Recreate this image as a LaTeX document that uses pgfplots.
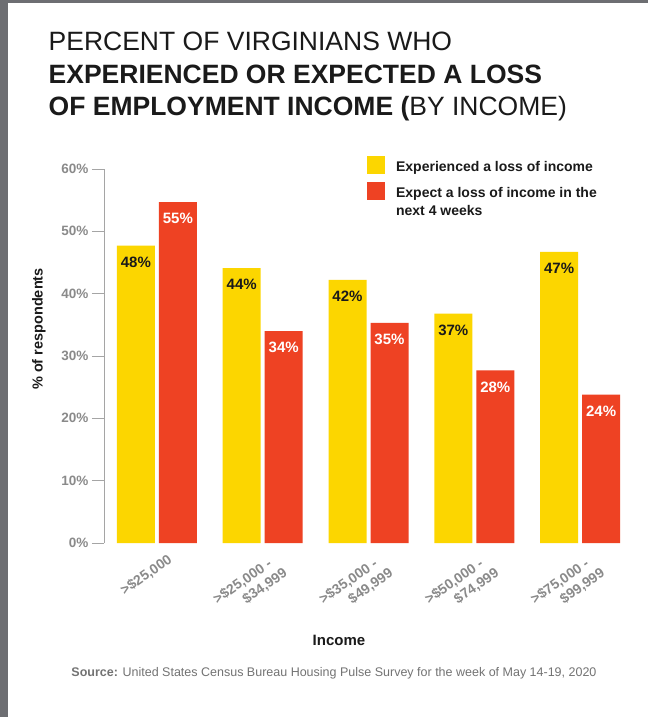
\documentclass[border=0pt]{standalone}
\usepackage{pgfplots}
\pgfplotsset{compat=1.18}
\usepackage{fontspec}
\setmainfont{Liberation Sans}
\definecolor{ylw}{RGB}{252,214,0}
\definecolor{rd}{RGB}{238,66,35}
\definecolor{framegray}{RGB}{109,110,114}
\definecolor{tickgray}{RGB}{138,138,138}
\definecolor{axgray}{RGB}{165,165,165}
\definecolor{srcgray}{RGB}{115,115,115}
\definecolor{ink}{RGB}{26,26,26}

\pgfplotstableread{
x exp expect
0 47.7 54.7
1 44.1 34.0
2 42.2 35.3
3 36.8 27.7
4 46.7 23.8
}\datatable

\begin{document}
\begin{tikzpicture}
\useasboundingbox (0,0) rectangle (648pt,-717pt);
\fill[framegray] (0,0) rectangle (648pt,-717pt);
\fill[white] (8pt,-3pt) rectangle (648pt,-717pt);

\node[anchor=base west, inner sep=0pt, text=ink, font=\fontsize{26.5}{30}\selectfont] at (48.5pt,-51pt) {PERCENT OF VIRGINIANS WHO};
\node[anchor=base west, inner sep=0pt, text=ink, font=\fontsize{26.5}{30}\selectfont\bfseries] at (48.5pt,-83pt) {EXPERIENCED OR EXPECTED A LOSS};
\node[anchor=base west, inner sep=0pt, text=ink, font=\fontsize{26.5}{30}\selectfont] at (48.5pt,-115pt) {\textbf{OF EMPLOYMENT INCOME (}BY INCOME)};

\begin{axis}[
  at={(104pt,-543pt)}, anchor=south west,
  scale only axis, width=529pt, height=374pt,
  xmin=-0.5, xmax=4.5, ymin=0, ymax=60,
  ybar=4pt, bar width=38pt,
  axis x line*=bottom, axis y line*=left,
  x axis line style={draw=none},
  y axis line style={axgray, line width=0.9pt},
  xtick={0,1,2,3,4}, xtick style={draw=none}, xtick align=inside,
  xticklabels={{>\$25,000},{>\$25,000 -\\\hspace*{24pt}\$34,999},{>\$35,000 -\\\hspace*{24pt}\$49,999},{>\$50,000 -\\\hspace*{24pt}\$74,999},{>\$75,000 -\\\hspace*{24pt}\$99,999}},
  xticklabel style={font=\fontsize{14}{16.5}\selectfont\bfseries, text=tickgray, align=left, inner sep=0pt, xshift=10pt, yshift=-10pt, rotate=35, anchor=north east},
  ytick={0,10,...,60}, ytick align=outside, major tick length=12pt,
  ytick style={axgray, line width=0.9pt},
  yticklabel={\pgfmathprintnumber{\tick}\%},
  yticklabel style={font=\fontsize{13.5}{16}\selectfont\bfseries, text=tickgray},
  /pgf/number format/assume math mode=true,
  nodes near coords={\pgfmathprintnumber[fixed,precision=0]{\pgfplotspointmeta}\%},
  every node near coord/.append style={font=\fontsize{15}{18}\selectfont\bfseries, anchor=north, inner sep=0pt, yshift=-11pt},
  legend style={at={(rel axis cs:0.497,1.035)}, anchor=north west, draw=none, fill=none, inner sep=0pt,
    font=\fontsize{14}{17.5}\selectfont\bfseries, text=ink, nodes={inner sep=0pt},
    cells={anchor=west, align=left}, column sep=11pt, row sep=3pt},
  clip=false,
]
\addplot[fill=ylw, draw=none, every node near coord/.append style={text=ink},
  legend image code/.code={\path[fill=none,draw=none] (0pt,-11.5pt) rectangle (18pt,11.5pt); \fill[ylw] (0pt,-6.5pt) rectangle (18pt,11.5pt);}]
  table[x=x, y=exp] {\datatable};
\addlegendentry{Experienced a loss of income}
\addplot[fill=rd, draw=none, every node near coord/.append style={text=white},
  legend image code/.code={\path[fill=none,draw=none] (0pt,-20pt) rectangle (18pt,20pt); \fill[rd] (0pt,2pt) rectangle (18pt,20pt);}]
  table[x=x, y=expect] {\datatable};
\addlegendentry{Expect a loss of income in the\\next 4 weeks}
\end{axis}

\node[rotate=90, inner sep=0pt, text=ink, font=\fontsize{14.5}{17}\selectfont\bfseries] at (39pt,-329pt) {\% of respondents};
\node[inner sep=0pt, text=ink, font=\fontsize{15}{18}\selectfont\bfseries] at (339pt,-640pt) {Income};
\node[inner sep=0pt, text=srcgray, font=\fontsize{12.5}{15}\selectfont] at (334pt,-673pt) {\textbf{Source:} United States Census Bureau Housing Pulse Survey for the week of May 14-19, 2020};
\end{tikzpicture}
\end{document}
